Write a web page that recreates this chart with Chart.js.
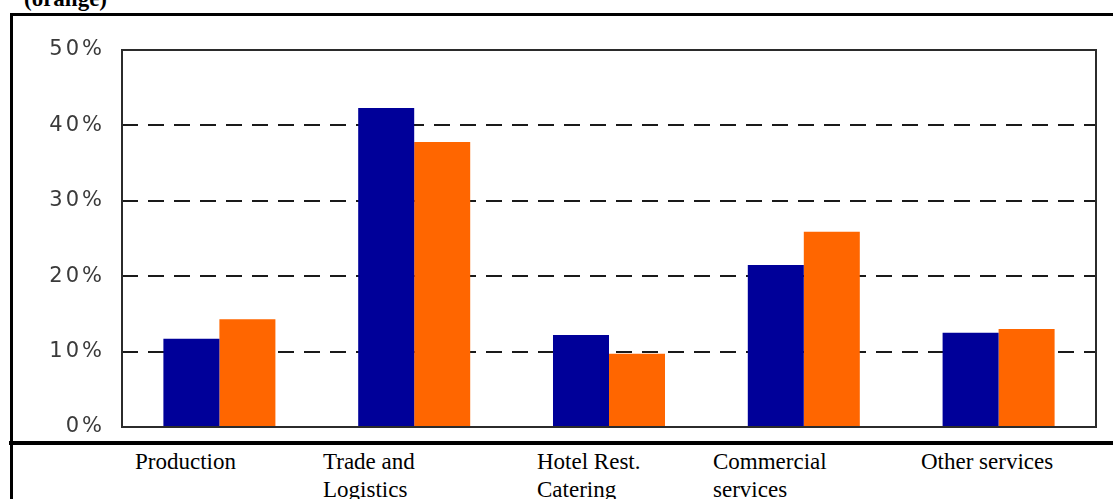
<!DOCTYPE html>
<html>
<head>
<meta charset="utf-8">
<script src="https://cdn.jsdelivr.net/npm/chart.js@4/dist/chart.umd.min.js"></script>
<style>
  html, body { margin: 0; padding: 0; background: #fff; width: 1113px; height: 499px; overflow: hidden; position: relative; }
  #caption { position: absolute; left: 24px; top: -13px; font: bold 23px "Liberation Serif", "Times New Roman", serif; line-height: 23px; color: #000; white-space: nowrap; z-index: 2; }
  .hline { position: absolute; background: #000; z-index: 2; }
  .vline { position: absolute; background: #000; z-index: 2; }
  #wrap { position: absolute; left: 12px; top: 16px; width: 1101px; height: 424px; z-index: 1; }
  .cat { position: absolute; top: 448px; width: 140px; font: 23px "Liberation Serif", "Times New Roman", serif; line-height: 28px; color: #000; z-index: 2; }
</style>
</head>
<body>
<div id="caption">(orange)</div>
<div class="hline" style="left:10px; top:13px; width:1103px; height:3px;"></div>
<div class="vline" style="left:10px; top:13px; width:3px; height:486px;"></div>
<div class="hline" style="left:9px; top:441px; width:1104px; height:4px;"></div>
<div id="wrap"><canvas id="c" width="1101" height="424"></canvas></div>
<div id="cats"></div>
<script>
// ---- data ----
const categories = ["Production", "Trade and Logistics", "Hotel Rest. Catering", "Commercial services", "Other services"];
const seriesBlue = [11.7, 42.3, 12.2, 21.5, 12.5];
const seriesOrange = [14.3, 37.8, 9.7, 25.9, 13.0];
const yTicks = [0, 10, 20, 30, 40, 50];

// ---- category labels row (table cells below chart) ----
const cellLefts = [135, 323, 537, 713, 921];
const catsDiv = document.getElementById('cats');
categories.forEach((name, i) => {
  const d = document.createElement('div');
  d.className = 'cat';
  d.style.left = cellLefts[i] + 'px';
  d.textContent = name;
  catsDiv.appendChild(d);
});

const framePlugin = {
  id: 'frame',
  beforeDraw(chart) { chart.ctx.letterSpacing = '3px'; },
  afterDraw(chart) {
    const { ctx, chartArea: a } = chart;
    ctx.save();
    ctx.letterSpacing = '0px';
    ctx.strokeStyle = '#2b2b2b';
    ctx.lineWidth = 2;
    ctx.strokeRect(a.left, a.top, a.right - a.left, a.bottom - a.top);
    ctx.restore();
    ctx.letterSpacing = '0px';
  }
};

new Chart(document.getElementById('c'), {
  type: 'bar',
  data: {
    labels: categories,
    datasets: [
      { label: 'blue', data: seriesBlue, backgroundColor: '#000099', borderWidth: 0 },
      { label: 'orange', data: seriesOrange, backgroundColor: '#FF6600', borderWidth: 0 }
    ]
  },
  options: {
    responsive: false,
    animation: false,
    devicePixelRatio: 1,
    layout: { padding: { left: 0, right: 17, top: 34, bottom: 13 } },
    plugins: { legend: { display: false }, tooltip: { enabled: false }, title: { display: false } },
    datasets: { bar: { categoryPercentage: 0.575, barPercentage: 1.0 } },
    scales: {
      x: { display: false, offset: true, grid: { display: false } },
      y: {
        min: yTicks[0], max: yTicks[yTicks.length - 1],
        afterFit(s) { s.width = 110; s.paddingTop = 0; s.paddingBottom = 0; },
        afterBuildTicks(s) { s.ticks = yTicks.map(v => ({ value: v })); },
        ticks: {
          stepSize: 10,
          padding: 17,
          color: '#3a3a3a',
          font: { family: 'DejaVu Sans', size: 21, lineHeight: 0.01 },
          callback: v => v + '%'
        },
        grid: {
          drawTicks: false,
          lineWidth: 2,
          color: c => (c.tick && (c.tick.value === 0 || c.tick.value === 50)) ? 'rgba(0,0,0,0)' : '#1a1a1a'
        },
        border: { display: false, dash: [16, 10] }
      }
    }
  },
  plugins: [framePlugin]
});
</script>
</body>
</html>
